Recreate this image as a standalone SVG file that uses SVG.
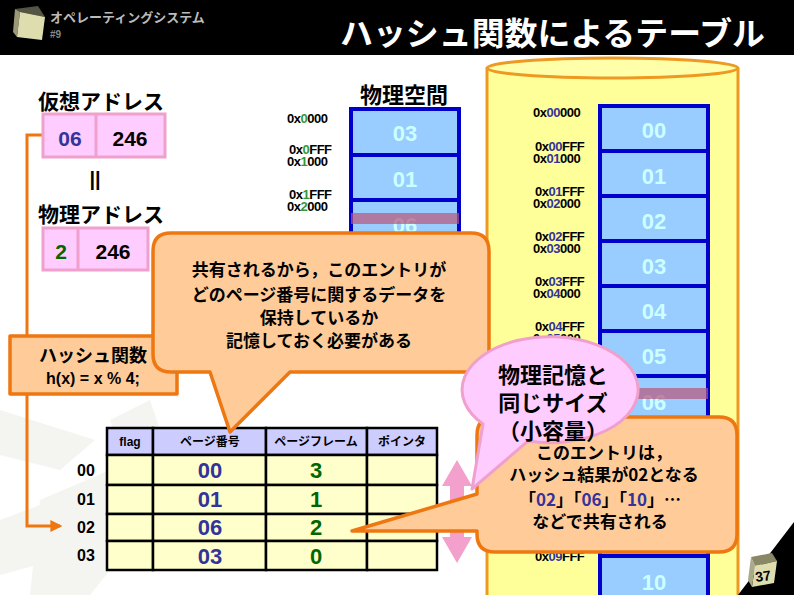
<svg xmlns="http://www.w3.org/2000/svg" width="794" height="595" viewBox="0 0 794 595">
<defs>
<style>
.jp{font-family:"Noto Sans CJK JP","Liberation Sans",sans-serif;font-weight:bold}
.en{font-family:"Liberation Sans","DejaVu Sans",sans-serif;font-weight:bold}
.addr{font-family:"Liberation Sans",sans-serif;font-weight:bold;font-size:13px;fill:#000;letter-spacing:-0.5px}
.blk{fill:#99ccff;stroke:#0000cc;stroke-width:4}
.blab{font-family:"Liberation Sans",sans-serif;font-weight:bold;font-size:22px;fill:#ccffff;text-anchor:middle}
.band{fill:#b8557a;opacity:0.7}
.call{fill:#ffcc99;stroke:#ee7711;stroke-width:3.5;stroke-linejoin:round}
.cell{fill:#ffffcc;stroke:#000;stroke-width:2.5}
.head{fill:#ccccff;stroke:#000;stroke-width:2.5}
.vb{fill:#333399}
.vg{fill:#006600}
.g{fill:#339933}
.b{fill:#333399}
</style>
<marker id="arr" viewBox="0 0 10 10" refX="8" refY="5" markerWidth="4" markerHeight="4" orient="auto"><path d="M0,0 L10,5 L0,10 Z" fill="#ee7711"/></marker>
</defs>
<rect width="794" height="595" fill="#ffffff"/>
<g id="background" fill="#e6e6dc" opacity="0.4">
<polygon points="0,410 95,440 60,470 0,455"/>
<polygon points="40,500 110,470 150,520 90,595 30,595"/>
<polygon points="110,420 150,400 160,430 120,445"/>
<polygon points="0,520 40,505 55,560 0,575"/>
</g>
<g id="header">
<rect x="0" y="0" width="794" height="55" fill="#000"/>
<polygon points="15,9 38,6 45,17 20,12" fill="#555544"/>
<polygon points="15,9 20,12 17,37 13,32" fill="#999977"/>
<polygon points="20,12 45,17 42,40 17,37" fill="#deddb0"/>
<text x="50" y="22" class="jp" font-size="13" fill="#bbbbbb" font-weight="normal">オペレーティングシステム</text>
<text x="50" y="38" class="en" font-size="10" fill="#888888">#9</text>
<text x="340" y="45" class="jp" font-size="32" fill="#ffffff" textLength="425" lengthAdjust="spacingAndGlyphs">ハッシュ関数によるテーブル</text>
</g>
<g id="cylinder">
<path d="M487,68 V600 H738 V68" fill="#ffff99" stroke="#ee9922" stroke-width="3"/>
<ellipse cx="612.5" cy="68" rx="125.5" ry="10" fill="#ffffaa" stroke="#ee9922" stroke-width="3"/>
</g>
<g id="memory-right">
<rect class="blk" x="600" y="106" width="108" height="500"/>
<g stroke="#0000cc" stroke-width="4">
<line x1="600" y1="151" x2="708" y2="151"/><line x1="600" y1="196" x2="708" y2="196"/>
<line x1="600" y1="241" x2="708" y2="241"/><line x1="600" y1="286" x2="708" y2="286"/>
<line x1="600" y1="331" x2="708" y2="331"/><line x1="600" y1="376" x2="708" y2="376"/>
<line x1="600" y1="421" x2="708" y2="421"/><line x1="600" y1="466" x2="708" y2="466"/>
<line x1="600" y1="511" x2="708" y2="511"/><line x1="600" y1="556" x2="708" y2="556"/>
</g>
<text class="blab" x="654" y="138">00</text>
<text class="blab" x="654" y="184">01</text>
<text class="blab" x="654" y="229">02</text>
<text class="blab" x="654" y="274">03</text>
<text class="blab" x="654" y="319">04</text>
<text class="blab" x="654" y="364">05</text>
<text class="blab" x="654" y="410">06</text>
<text class="blab" x="654" y="590">10</text>
<rect class="band" x="600" y="388" width="108" height="11"/>
<text class="addr" x="533" y="117">0x<tspan class="b">00</tspan>000</text>
<text class="addr"><tspan x="535" y="151">0x<tspan class="b">00</tspan>FFF</tspan><tspan x="533" y="163">0x<tspan class="b">01</tspan>000</tspan></text>
<text class="addr"><tspan x="535" y="196">0x<tspan class="b">01</tspan>FFF</tspan><tspan x="533" y="208">0x<tspan class="b">02</tspan>000</tspan></text>
<text class="addr"><tspan x="535" y="241">0x<tspan class="b">02</tspan>FFF</tspan><tspan x="533" y="253">0x<tspan class="b">03</tspan>000</tspan></text>
<text class="addr"><tspan x="535" y="286">0x<tspan class="b">03</tspan>FFF</tspan><tspan x="533" y="298">0x<tspan class="b">04</tspan>000</tspan></text>
<text class="addr"><tspan x="535" y="331">0x<tspan class="b">04</tspan>FFF</tspan><tspan x="533" y="343">0x<tspan class="b">05</tspan>000</tspan></text>
<text class="addr" x="535" y="561">0x<tspan class="b">09</tspan>FFF</text>
</g>
<g id="memory-middle">
<text x="404" y="103" class="jp" font-size="22" text-anchor="middle">物理空間</text>
<rect class="blk" x="351" y="109" width="108" height="180"/>
<g stroke="#0000cc" stroke-width="4">
<line x1="351" y1="155" x2="459" y2="155"/><line x1="351" y1="200" x2="459" y2="200"/><line x1="351" y1="245" x2="459" y2="245"/>
</g>
<text class="blab" x="405" y="141">03</text>
<text class="blab" x="405" y="187">01</text>
<text class="blab" x="405" y="233">06</text>
<rect class="band" x="351" y="213" width="108" height="11"/>
<text class="addr" x="287" y="123">0x<tspan class="g">0</tspan>000</text>
<text class="addr"><tspan x="289" y="154">0x<tspan class="g">0</tspan>FFF</tspan><tspan x="287" y="166">0x<tspan class="g">1</tspan>000</tspan></text>
<text class="addr"><tspan x="289" y="199">0x<tspan class="g">1</tspan>FFF</tspan><tspan x="287" y="211">0x<tspan class="g">2</tspan>000</tspan></text>
</g>
<g id="connectors">
<path d="M43,135 H27 V526 H60" fill="none" stroke="#ee7711" stroke-width="3" marker-end="url(#arr)"/>
</g>
<g id="virtual-address">
<text x="38" y="109" class="jp" font-size="21">仮想アドレス</text>
<rect x="43" y="114" width="122" height="43" fill="#ffccff" stroke="#f0a0cc" stroke-width="3"/>
<line x1="96" y1="114" x2="96" y2="157" stroke="#f0a0cc" stroke-width="3"/>
<text x="70" y="146" class="en" font-size="21" text-anchor="middle" fill="#333399">06</text>
<text x="130" y="146" class="en" font-size="21" text-anchor="middle">246</text>
<text x="95" y="186" class="en" font-size="20" text-anchor="middle">||</text>
</g>
<g id="physical-address">
<text x="38" y="222" class="jp" font-size="21">物理アドレス</text>
<rect x="43" y="228" width="105" height="42" fill="#ffccff" stroke="#f0a0cc" stroke-width="3"/>
<line x1="78" y1="228" x2="78" y2="270" stroke="#f0a0cc" stroke-width="3"/>
<text x="61" y="259" class="en" font-size="21" text-anchor="middle" fill="#006600">2</text>
<text x="113" y="259" class="en" font-size="21" text-anchor="middle">246</text>
</g>
<g id="hash-function">
<rect class="call" x="10" y="336" width="167" height="58"/>
<text x="93" y="362" class="jp" font-size="18" text-anchor="middle">ハッシュ関数</text>
<text x="93" y="384" class="en" font-size="16" text-anchor="middle">h(x) = x % 4;</text>
</g>
<g id="page-table">
<rect class="head" x="107" y="428" width="46" height="27"/>
<rect class="head" x="153" y="428" width="113" height="27"/>
<rect class="head" x="266" y="428" width="101" height="27"/>
<rect class="head" x="367" y="428" width="70" height="27"/>
<rect class="cell" x="107" y="455" width="46" height="30"/><rect class="cell" x="153" y="455" width="113" height="30"/><rect class="cell" x="266" y="455" width="101" height="30"/><rect class="cell" x="367" y="455" width="70" height="30"/>
<rect class="cell" x="107" y="485" width="46" height="29"/><rect class="cell" x="153" y="485" width="113" height="29"/><rect class="cell" x="266" y="485" width="101" height="29"/><rect class="cell" x="367" y="485" width="70" height="29"/>
<rect class="cell" x="107" y="514" width="46" height="27"/><rect class="cell" x="153" y="514" width="113" height="27"/><rect class="cell" x="266" y="514" width="101" height="27"/><rect class="cell" x="367" y="514" width="70" height="27"/>
<rect class="cell" x="107" y="541" width="46" height="29"/><rect class="cell" x="153" y="541" width="113" height="29"/><rect class="cell" x="266" y="541" width="101" height="29"/><rect class="cell" x="367" y="541" width="70" height="29"/>
<text x="130" y="446" class="en" font-size="12" text-anchor="middle">flag</text>
<text x="210" y="446" class="jp" font-size="12" text-anchor="middle">ページ番号</text>
<text x="316" y="446" class="jp" font-size="12" text-anchor="middle">ページフレーム</text>
<text x="402" y="446" class="jp" font-size="12" text-anchor="middle">ポインタ</text>
<g class="en" font-size="16" text-anchor="middle">
<text x="86" y="476">00</text><text x="86" y="505">01</text><text x="86" y="533">02</text><text x="86" y="561">03</text>
</g>
<g class="en" font-size="22" text-anchor="middle">
<text x="210" y="478" class="vb">00</text><text x="210" y="507" class="vb">01</text><text x="210" y="535" class="vb">06</text><text x="210" y="564" class="vb">03</text>
<text x="316" y="478" class="vg">3</text><text x="316" y="507" class="vg">1</text><text x="316" y="535" class="vg">2</text><text x="316" y="564" class="vg">0</text>
</g>
</g>
<g id="callout-shared">
<path class="call" d="M171,233 H471 Q489,233 489,251 V354 Q489,372 471,372 H290 L230,432 L210,372 H171 Q153,372 153,354 V251 Q153,233 171,233 Z"/>
<g class="jp" font-size="17" text-anchor="middle">
<text x="319" y="276">共有されるから，このエントリが</text>
<text x="319" y="301">どのページ番号に関するデータを</text>
<text x="319" y="324">保持しているか</text>
<text x="319" y="347">記憶しておく必要がある</text>
</g>
</g>
<g id="size-arrow">
<path d="M457,460 L472,486 L464,486 L464,537 L472,537 L457,563 L442,537 L450,537 L450,486 L442,486 Z" fill="#f4a0cc"/>
</g>
<g id="callout-entry">
<path class="call" d="M495,417 H719 Q737,417 737,435 V534 Q737,552 719,552 H495 Q477,552 477,534 V531 L352,531 L477,494 V435 Q477,417 495,417 Z"/>
<g class="jp" font-size="17" text-anchor="middle">
<text x="604" y="459">このエントリは，</text>
<text x="604" y="481">ハッシュ結果が02となる</text>
<text x="600" y="506">「<tspan class="vb">02</tspan>」「<tspan class="vb">06</tspan>」「<tspan class="vb">10</tspan>」…</text>
<text x="600" y="528">などで共有される</text>
</g>
</g>
<g id="bubble-size">
<path d="M483,424 A88,53 0 1,1 528,441 L472,489 Z" fill="#ffccff" stroke="#f0a0cc" stroke-width="3" stroke-linejoin="round"/>
<g class="jp" font-size="22" text-anchor="middle">
<text x="553" y="383">物理記憶と</text>
<text x="553" y="411">同じサイズ</text>
<text x="553" y="439">（小容量）</text>
</g>
</g>
<g id="page-number">
<polygon points="738,595 794,522 794,595" fill="#000"/>
<polygon points="751,557 772,553 777,561 755,566" fill="#888866"/>
<polygon points="755,566 777,561 774,583 752,587" fill="#deddb0"/>
<polygon points="751,557 755,566 752,587 748,580" fill="#aaaa88"/>
<text x="763" y="581" class="en" font-size="14" text-anchor="middle" transform="rotate(-8 763 576)">37</text>
</g>
</svg>
